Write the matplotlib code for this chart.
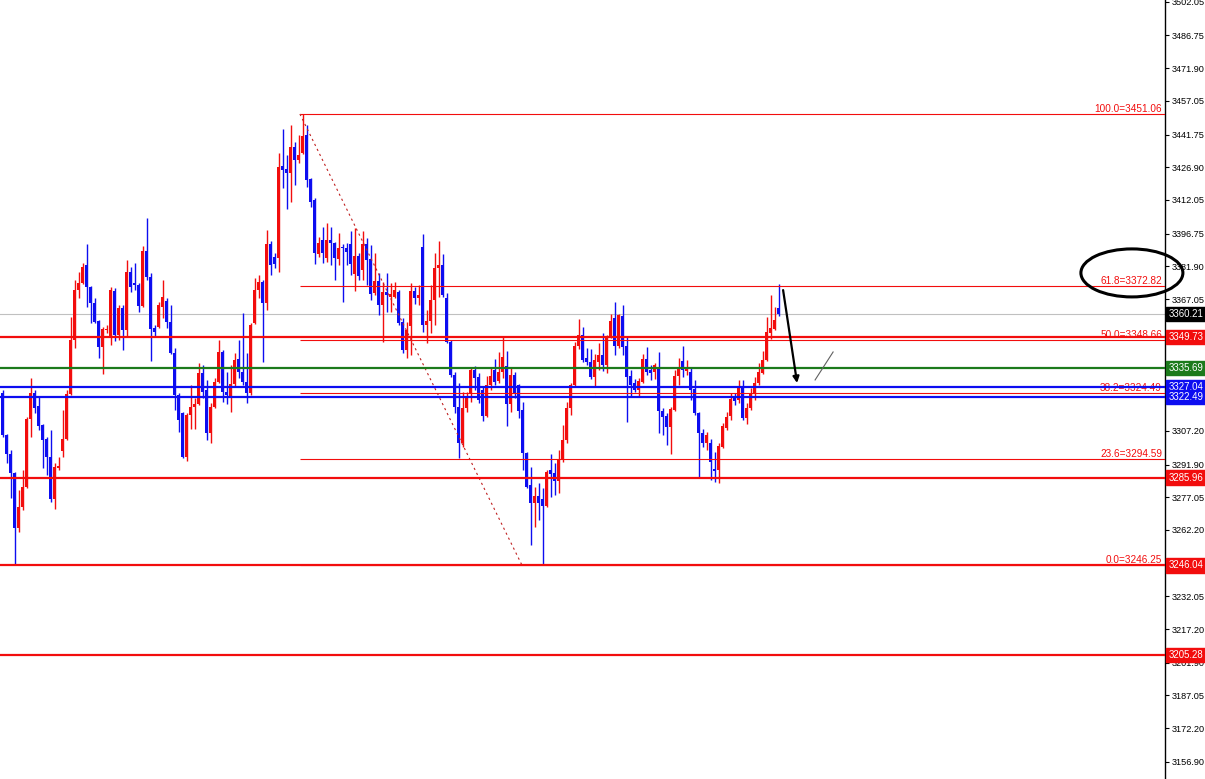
import matplotlib
matplotlib.use("Agg")
import matplotlib.pyplot as plt
import matplotlib.transforms as mtransforms
from matplotlib.patches import Ellipse
import numpy as np

# OHLC, oldest first
opens = [3324.4, 3305.3, 3296.7, 3288.0, 3263.1, 3272.6, 3281.7, 3312.6, 3324.4, 3318.5,
         3309.8, 3303.5, 3295.3, 3276.2, 3290.3, 3298.0, 3303.5, 3323.9, 3348.4, 3371.1,
         3374.3, 3382.5, 3372.5, 3365.2, 3357.1, 3345.3, 3353.0, 3350.3, 3370.7, 3350.7,
         3363.0, 3353.0, 3379.3, 3374.3, 3373.4, 3363.9, 3388.9, 3377.0, 3353.9, 3354.3,
         3363.4, 3366.2, 3356.6, 3342.5, 3323.5, 3315.3, 3295.3, 3314.4, 3318.0, 3319.4,
         3333.5, 3325.7, 3306.2, 3318.0, 3329.4, 3343.0, 3324.8, 3322.1, 3328.5, 3339.8,
         3333.9, 3329.4, 3324.4, 3356.2, 3371.1, 3374.8, 3365.2, 3392.0, 3386.1, 3385.7,
         3427.5, 3426.1, 3424.3, 3436.1, 3430.2, 3433.4, 3441.5, 3421.5, 3412.0, 3387.5,
         3393.9, 3385.7, 3393.9, 3392.5, 3385.2, 3390.7, 3390.2, 3392.0, 3378.4, 3386.6,
         3380.2, 3392.0, 3385.2, 3369.8, 3375.2, 3364.3, 3370.2, 3368.0, 3368.0, 3370.2,
         3356.6, 3343.9, 3354.8, 3370.7, 3367.5, 3390.7, 3355.3, 3357.1, 3366.6, 3381.1,
         3382.5, 3367.5, 3347.5, 3332.5, 3318.0, 3301.7, 3317.6, 3323.9, 3334.8, 3331.6,
         3325.7, 3313.9, 3328.0, 3334.8, 3329.8, 3333.9, 3336.7, 3319.4, 3332.5, 3328.0,
         3316.7, 3297.1, 3282.6, 3274.4, 3277.6, 3276.2, 3273.1, 3289.4, 3288.0, 3284.4,
         3294.0, 3303.0, 3317.6, 3328.0, 3345.7, 3350.7, 3340.3, 3338.4, 3331.6, 3338.4,
         3341.6, 3337.1, 3349.8, 3358.4, 3345.7, 3359.3, 3345.7, 3332.1, 3328.9, 3325.7,
         3329.4, 3339.8, 3334.8, 3333.9, 3335.7, 3316.2, 3313.9, 3308.9, 3316.7, 3332.1,
         3338.9, 3334.4, 3333.9, 3326.2, 3315.3, 3306.2, 3301.7, 3301.7, 3289.9, 3289.4,
         3299.9, 3308.5, 3313.9, 3323.0, 3321.2, 3326.6, 3313.0, 3317.6, 3323.9, 3328.9,
         3333.5, 3339.4, 3351.6, 3353.4, 3363.0]
highs = [3325.7, 3305.8, 3298.5, 3288.5, 3280.3, 3289.4, 3313.5, 3331.2, 3325.7, 3322.6,
         3310.3, 3304.4, 3307.6, 3292.6, 3295.3, 3316.7, 3325.7, 3358.9, 3375.7, 3379.3,
         3383.4, 3392.0, 3373.0, 3367.5, 3357.5, 3354.3, 3355.3, 3372.5, 3372.1, 3364.3,
         3364.3, 3384.8, 3381.6, 3383.4, 3374.3, 3391.1, 3403.8, 3378.9, 3355.3, 3365.7,
         3375.7, 3367.5, 3364.3, 3344.8, 3324.4, 3315.7, 3315.3, 3328.0, 3322.1, 3338.0,
         3337.1, 3330.3, 3319.8, 3331.2, 3348.4, 3343.9, 3333.9, 3337.1, 3342.5, 3348.4,
         3360.7, 3342.5, 3356.2, 3376.6, 3378.0, 3375.7, 3398.4, 3393.4, 3388.0, 3433.4,
         3444.3, 3432.5, 3446.1, 3438.4, 3441.5, 3451.1, 3446.1, 3422.0, 3412.9, 3395.2,
         3399.8, 3401.6, 3399.8, 3392.9, 3397.0, 3392.0, 3392.5, 3397.9, 3399.3, 3388.0,
         3397.9, 3394.8, 3391.6, 3388.0, 3378.9, 3374.8, 3378.9, 3374.3, 3374.8, 3371.1,
         3358.4, 3356.6, 3374.3, 3372.5, 3373.4, 3396.6, 3362.1, 3373.4, 3388.0, 3393.4,
         3387.5, 3369.8, 3348.4, 3333.9, 3328.9, 3324.8, 3324.8, 3336.2, 3336.7, 3333.5,
         3327.1, 3332.1, 3335.7, 3339.8, 3343.0, 3349.8, 3343.5, 3335.7, 3333.9, 3328.5,
         3320.3, 3297.6, 3290.8, 3281.7, 3283.5, 3281.2, 3289.4, 3296.7, 3292.6, 3298.5,
         3309.8, 3320.3, 3328.9, 3347.5, 3358.0, 3354.3, 3344.8, 3344.4, 3342.1, 3347.1,
         3351.6, 3350.7, 3360.2, 3365.7, 3360.2, 3364.3, 3349.8, 3334.8, 3330.7, 3331.2,
         3342.1, 3345.3, 3337.1, 3338.0, 3343.0, 3317.6, 3315.3, 3318.0, 3334.8, 3340.3,
         3345.7, 3339.4, 3335.7, 3330.3, 3315.7, 3308.0, 3306.7, 3303.5, 3297.6, 3301.7,
         3310.7, 3315.7, 3324.4, 3324.4, 3330.3, 3330.3, 3319.8, 3326.6, 3331.6, 3338.0,
         3343.5, 3358.9, 3368.9, 3363.4, 3373.9]
lows = [3304.4, 3292.6, 3276.7, 3246.3, 3261.3, 3271.2, 3281.2, 3304.4, 3315.3, 3307.6,
        3290.3, 3287.1, 3274.9, 3271.7, 3289.4, 3295.3, 3303.0, 3323.5, 3344.8, 3367.5,
        3373.9, 3363.4, 3356.2, 3356.2, 3340.3, 3333.0, 3351.6, 3346.2, 3348.0, 3348.4,
        3343.9, 3349.8, 3370.2, 3371.1, 3361.2, 3363.4, 3375.7, 3338.9, 3350.3, 3353.9,
        3358.4, 3353.9, 3342.1, 3316.7, 3306.7, 3294.9, 3293.5, 3308.0, 3308.0, 3318.9,
        3322.1, 3303.0, 3301.7, 3317.6, 3328.9, 3320.3, 3319.4, 3315.7, 3327.1, 3331.2,
        3328.0, 3319.8, 3323.5, 3355.7, 3367.5, 3338.4, 3362.1, 3378.0, 3381.1, 3379.3,
        3417.5, 3407.9, 3411.1, 3418.8, 3428.8, 3432.9, 3417.9, 3408.8, 3382.9, 3386.1,
        3383.4, 3383.9, 3382.5, 3375.7, 3382.5, 3365.7, 3382.5, 3378.0, 3370.7, 3375.7,
        3375.7, 3373.4, 3366.6, 3368.9, 3359.8, 3347.5, 3361.2, 3361.2, 3367.5, 3355.3,
        3342.5, 3340.3, 3341.6, 3364.8, 3364.3, 3352.1, 3347.1, 3351.6, 3355.3, 3368.0,
        3368.0, 3347.1, 3331.6, 3315.3, 3294.9, 3299.9, 3315.7, 3320.3, 3325.7, 3319.8,
        3311.7, 3313.5, 3325.7, 3328.0, 3328.9, 3331.2, 3309.4, 3315.7, 3322.1, 3313.0,
        3289.4, 3281.2, 3255.4, 3263.5, 3266.7, 3246.6, 3272.6, 3277.1, 3278.1, 3279.0,
        3293.0, 3301.7, 3314.4, 3327.1, 3344.4, 3338.4, 3337.1, 3330.7, 3327.5, 3334.8,
        3334.4, 3333.5, 3349.4, 3341.6, 3344.8, 3341.6, 3311.2, 3322.6, 3324.8, 3322.6,
        3328.9, 3332.5, 3330.3, 3330.7, 3306.2, 3305.1, 3300.8, 3296.7, 3316.2, 3328.0,
        3331.6, 3332.5, 3321.2, 3314.4, 3286.2, 3299.9, 3298.5, 3284.9, 3284.0, 3283.5,
        3299.4, 3307.6, 3312.1, 3318.9, 3319.8, 3312.1, 3310.3, 3316.7, 3321.2, 3328.0,
        3333.0, 3338.9, 3348.9, 3353.0, 3359.3]
closes = [3305.3, 3296.7, 3288.0, 3263.1, 3272.6, 3281.7, 3312.6, 3324.4, 3317.6, 3309.4,
          3303.0, 3295.3, 3276.2, 3290.8, 3291.2, 3303.5, 3323.9, 3348.4, 3371.1, 3374.3,
          3381.6, 3372.5, 3365.2, 3356.6, 3345.3, 3353.4, 3353.4, 3371.1, 3350.7, 3363.0,
          3353.0, 3379.3, 3372.5, 3373.4, 3363.9, 3388.9, 3377.0, 3353.4, 3352.1, 3364.3,
          3368.0, 3356.6, 3342.5, 3323.5, 3312.1, 3295.3, 3314.4, 3318.0, 3319.4, 3333.5,
          3324.8, 3306.2, 3318.0, 3329.4, 3343.0, 3324.8, 3323.5, 3328.5, 3339.4, 3333.9,
          3329.4, 3324.4, 3355.3, 3371.1, 3374.8, 3365.2, 3392.0, 3382.5, 3383.0, 3427.0,
          3425.6, 3424.3, 3436.1, 3430.2, 3432.5, 3441.1, 3421.1, 3411.1, 3388.0, 3392.5,
          3388.0, 3393.9, 3392.5, 3385.7, 3390.2, 3390.2, 3388.4, 3383.0, 3386.6, 3377.5,
          3392.0, 3384.8, 3369.3, 3375.2, 3364.3, 3370.2, 3368.9, 3369.3, 3371.1, 3356.2,
          3343.9, 3353.0, 3370.7, 3367.5, 3368.9, 3355.3, 3357.1, 3366.6, 3381.1, 3382.5,
          3368.9, 3347.5, 3332.5, 3318.0, 3301.7, 3317.6, 3322.6, 3334.8, 3331.2, 3321.2,
          3313.9, 3328.0, 3332.1, 3329.4, 3333.9, 3340.7, 3319.4, 3332.5, 3324.4, 3316.2,
          3297.1, 3281.7, 3274.4, 3277.6, 3274.4, 3273.1, 3288.5, 3287.6, 3284.4, 3294.0,
          3303.0, 3317.6, 3328.0, 3345.7, 3350.7, 3339.4, 3338.4, 3331.6, 3339.4, 3341.6,
          3337.1, 3349.8, 3357.1, 3345.7, 3359.8, 3345.3, 3331.6, 3328.0, 3325.7, 3329.8,
          3339.8, 3333.9, 3333.5, 3337.1, 3316.2, 3313.5, 3308.9, 3317.1, 3332.1, 3335.7,
          3334.8, 3336.2, 3325.7, 3315.3, 3306.2, 3301.7, 3305.1, 3293.0, 3289.0, 3300.3,
          3309.4, 3313.5, 3321.6, 3320.7, 3326.6, 3313.0, 3317.6, 3324.4, 3328.9, 3333.9,
          3339.4, 3352.1, 3353.9, 3357.5, 3360.2]

fib_names = ["100.0", "61.8", "50.0", "38.2", "23.6", "0.0"]
fib_values = [3451.06, 3372.82, 3348.66, 3324.49, 3294.59, 3246.25]
fib_from = (74.3, 3451.06)
fib_to = (129.8, 3246.25)

level_values = [3349.73, 3335.69, 3327.04, 3322.49, 3285.96, 3246.04, 3205.28]
level_colors = ["#f20d0d", "#1c7a1c", "#0d0df0", "#0d0df0", "#f20d0d", "#f20d0d", "#f20d0d"]
bid_price = 3360.21

# axis ticks that are not covered by the price boxes
tick_values = [3502.05, 3486.75, 3471.90, 3457.05, 3441.75, 3426.90, 3412.05, 3396.75,
               3381.90, 3367.05, 3351.75, 3307.20, 3291.90, 3277.05,
               3262.20, 3232.05, 3217.20, 3201.90, 3187.05, 3172.20, 3156.90]

arrow_from = (195.1, 3371.1)
arrow_to = (198.6, 3328.9)
pencil_from = (203.1, 3330.3)
pencil_to = (207.6, 3343.0)
ellipse_center = (282.3, 3378.9)
ellipse_w, ellipse_h = 25.5, 21.8

RED = "#f20d0d"
BLUE = "#0d0df0"

o = np.array(opens); h = np.array(highs); l = np.array(lows); c = np.array(closes)
x = np.arange(len(o))
up = c >= o
cols = np.where(up, RED, BLUE)

fig = plt.figure(figsize=(12.05, 7.79), dpi=100)
ax = fig.add_axes([0, 0, 1165 / 1205, 1])
ax.set_xlim(-0.675, 290.575)
ax.set_ylim(3149.09, 3502.83)

# candles
ax.vlines(x, l, h, colors=cols, lw=1.0, zorder=2)
body_lo = np.minimum(o, c)
body_h = np.maximum(np.abs(c - o), 0.6)
ax.bar(x, body_h, bottom=body_lo, width=0.78, color=cols, linewidth=0,
       antialiased=False, zorder=2)

# bid line
ax.axhline(bid_price, color="#c0c0c0", lw=0.8, zorder=1)

# fibonacci
xmax = ax.get_xlim()[1]
ax.hlines(fib_values, fib_from[0], xmax, colors=RED, lw=0.8, zorder=3)
ax.plot([fib_from[0], fib_to[0]], [fib_from[1], fib_to[1]], color="#c02020",
        lw=0.8, ls=(0, (2, 3)), zorder=3)
for name, val in zip(fib_names, fib_values):
    ax.annotate(f"{name}={val:.2f}", xy=(1, val), xycoords=("axes fraction", "data"),
                xytext=(-3, 2), textcoords="offset pixels", ha="right", va="baseline",
                color=RED, fontsize=7.2, family="Liberation Sans")

# horizontal levels
for val, col in zip(level_values, level_colors):
    ax.axhline(val, color=col, lw=1.6, zorder=4)

# arrow, pencil line, ellipse
ax.annotate("", xy=arrow_to, xytext=arrow_from,
            arrowprops=dict(arrowstyle="-|>", color="black", lw=1.6, mutation_scale=9,
                            shrinkA=0, shrinkB=0), zorder=5)
ax.plot([pencil_from[0], pencil_to[0]], [pencil_from[1], pencil_to[1]],
        color="#606060", lw=0.8, zorder=5)
ax.add_patch(Ellipse(ellipse_center, ellipse_w, ellipse_h, fill=False, ec="black",
                     lw=2.2, clip_on=False, zorder=6))

# axis styling
for s in ["top", "bottom", "left"]:
    ax.spines[s].set_visible(False)
ax.spines["right"].set_color("black")
ax.spines["right"].set_linewidth(1)
ax.set_xticks([])
ax.yaxis.tick_right()
ax.set_yticks(tick_values)
ax.set_yticklabels([f"{v:.2f}" for v in tick_values])
ax.tick_params(axis="y", length=3, width=0.8, pad=1.5, labelsize=6.6, colors="black")
for t in ax.get_yticklabels():
    t.set_family("Liberation Sans")

# price boxes on the axis
trans = mtransforms.blended_transform_factory(ax.transAxes, ax.transData)
boxes = [(bid_price, "black")] + list(zip(level_values, level_colors))
for val, col in boxes:
    ax.text(1.003, val, f"{val:.2f}", transform=trans, ha="left", va="center",
            color="white", fontsize=6.9, family="Liberation Sans", clip_on=False,
            bbox=dict(boxstyle="square,pad=0.22", fc=col, ec=col), zorder=7)

fig.savefig("out.png", dpi=100)
